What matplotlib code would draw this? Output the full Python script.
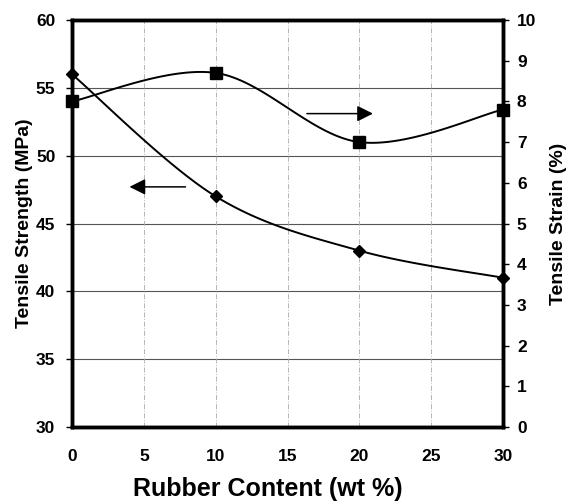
import numpy as np
import matplotlib.pyplot as plt

# data
rubber = [0, 10, 20, 30]
strength = [56, 47, 43, 41]        # MPa, left axis (diamonds)
strain = [8.0, 8.7, 7.0, 7.8]      # %, right axis (squares)

x_ticks = [0, 5, 10, 15, 20, 25, 30]
left_ticks = [30, 35, 40, 45, 50, 55, 60]
right_ticks = list(range(0, 11))


def smooth(x, y, n=40):
    # Excel style smoothed line (Catmull-Rom like bezier)
    x = np.asarray(x, float)
    y = np.asarray(y, float)
    px = np.concatenate([[x[0]], x, [x[-1]]])
    py = np.concatenate([[y[0]], y, [y[-1]]])
    xs, ys = [], []
    t = np.linspace(0, 1, n)
    for i in range(1, len(px) - 2):
        p0 = np.array([px[i], py[i]])
        p3 = np.array([px[i + 1], py[i + 1]])
        p1 = p0 + (np.array([px[i + 1], py[i + 1]]) - np.array([px[i - 1], py[i - 1]])) / 6
        p2 = p3 - (np.array([px[i + 2], py[i + 2]]) - np.array([px[i], py[i]])) / 6
        b = ((1 - t) ** 3)[:, None] * p0 + (3 * (1 - t) ** 2 * t)[:, None] * p1 \
            + (3 * (1 - t) * t ** 2)[:, None] * p2 + (t ** 3)[:, None] * p3
        xs.extend(b[:, 0])
        ys.extend(b[:, 1])
    return xs, ys


plt.rcParams['font.family'] = ['Liberation Sans', 'DejaVu Sans']
plt.rcParams['font.weight'] = 'bold'

fig = plt.figure(figsize=(5.68, 5.04), dpi=100)
ax = fig.add_axes([72 / 568, 77 / 504, 431 / 568, 407 / 504])
ax2 = ax.twinx()

ax.set_xlim(0, 30)
ax.set_ylim(30, 60)
ax2.set_ylim(0, 10)

# grid
for v in left_ticks[1:-1]:
    ax.axhline(v, color='#555555', lw=0.8, zorder=0)
for v in x_ticks[1:-1]:
    ax.axvline(v, color='#aaaaaa', lw=0.6, ls=(0, (6, 2, 1, 2)), zorder=0)

sx, sy = smooth(rubber, strength)
ax.plot(sx, sy, color='black', lw=1.4, zorder=3)
ax.plot(rubber, strength, ls='none', marker='D', ms=6.5, color='black', zorder=4, clip_on=False)

tx, ty = smooth(rubber, strain)
ax2.plot(tx, ty, color='black', lw=1.4, zorder=3)
ax2.plot(rubber, strain, ls='none', marker='s', ms=8, color='black', zorder=4, clip_on=False)

# arrows
arrow = dict(arrowstyle='-|>,head_length=0.8,head_width=0.4', color='black',
             lw=1.1, mutation_scale=12, shrinkA=0, shrinkB=0)
ax.annotate('', xy=(4.0, 47.7), xytext=(7.9, 47.7), arrowprops=arrow)
ax.annotate('', xy=(20.95, 53.1), xytext=(16.35, 53.1), arrowprops=arrow)

ax.set_xticks(x_ticks)
ax.set_yticks(left_ticks)
ax2.set_yticks(right_ticks)
ax.tick_params(axis='x', length=0, pad=16, labelsize=12.5)
ax.tick_params(axis='y', length=4, width=1, labelsize=12.5, pad=8)
ax2.tick_params(axis='y', length=4, width=1, labelsize=12.5, pad=6)

for a in (ax, ax2):
    for s in a.spines.values():
        s.set_linewidth(2.5)

ax.set_xlabel('Rubber Content (wt %)', fontsize=18, fontweight='bold')
ax.xaxis.set_label_coords(0.455, -0.122)
ax.set_ylabel('Tensile Strength (MPa)', fontsize=14, fontweight='bold', labelpad=2)
ax2.set_ylabel('Tensile Strain (%)', fontsize=14, fontweight='bold', labelpad=10)

fig.savefig('out.png', dpi=100)
